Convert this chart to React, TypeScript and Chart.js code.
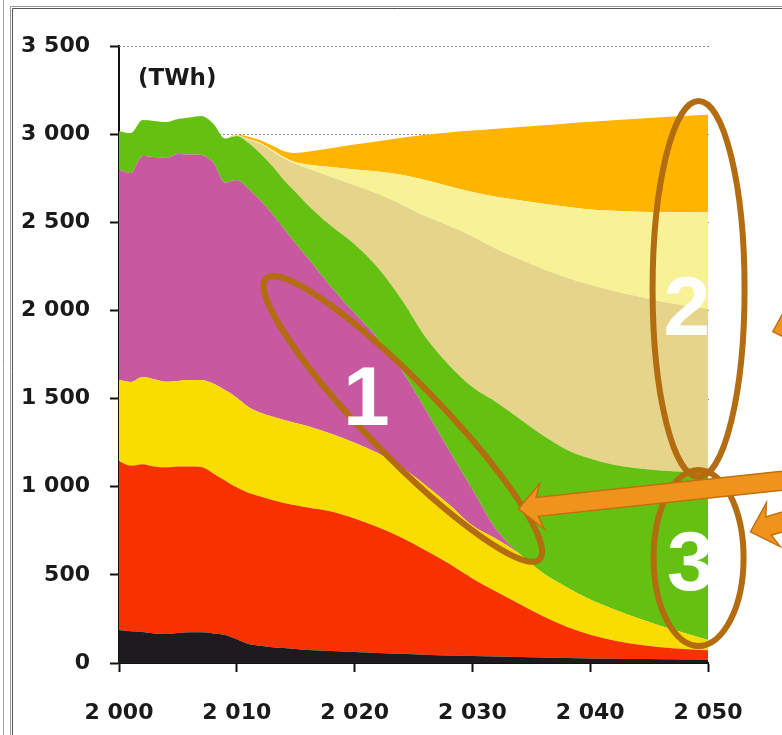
import { useEffect, useRef } from "react";
import { Chart, registerables } from "chart.js";

Chart.register(...registerables);

// Years sampled along the horizontal axis
const YEARS = [
  2000, 2001, 2002, 2003, 2004, 2005, 2006, 2007, 2008, 2009,
  2010, 2011, 2012, 2013, 2014, 2015, 2016,
  2018, 2020, 2022, 2024, 2026, 2028, 2030, 2032, 2034,
  2036, 2038, 2040, 2042, 2044, 2046, 2048, 2050,
];

// Stacked layers, bottom to top (TWh)
const BLACK = [187, 180, 176, 168, 164, 170, 174, 174, 168, 159, 135, 108, 98, 90, 85, 80, 74, 68, 62, 57, 52, 47, 43, 40, 37, 34, 31, 28, 26, 24, 22, 21, 20, 19];
const RED = [958, 940, 952, 947, 946, 945, 941, 938, 907, 876, 860, 857, 847, 835, 823, 815, 808, 792, 758, 713, 658, 593, 522, 440, 368, 301, 234, 177, 134, 104, 83, 69, 60, 53];
const YELLOW = [460, 474, 494, 495, 485, 485, 490, 493, 510, 513, 510, 487, 475, 473, 470, 467, 463, 440, 430, 420, 400, 370, 335, 300, 300, 285, 245, 225, 200, 177, 150, 120, 90, 58];
const MAGENTA = [1192, 1186, 1254, 1260, 1270, 1287, 1280, 1277, 1255, 1177, 1235, 1238, 1205, 1152, 1087, 1018, 955, 835, 735, 650, 550, 430, 310, 205, 55, 0, 0, 0, 0, 0, 0, 0, 0, 0];
const GREEN = [220, 226, 204, 205, 204, 199, 210, 221, 220, 250, 250, 260, 265, 270, 275, 290, 300, 345, 390, 400, 400, 410, 480, 580, 720, 765, 780, 780, 800, 820, 850, 882, 915, 950];
const TAN = [0, 0, 0, 0, 0, 0, 0, 0, 0, 0, 2, 18, 55, 85, 122, 160, 205, 277, 335, 420, 540, 685, 790, 855, 870, 905, 945, 975, 985, 985, 975, 958, 943, 930];
const PALE_YELLOW = [0, 0, 0, 0, 0, 0, 0, 0, 0, 0, 2, 4, 5, 7, 8, 10, 23, 56, 90, 128, 170, 205, 225, 252, 295, 335, 370, 403, 427, 455, 480, 508, 529, 546];
const ORANGE = [0, 0, 0, 0, 0, 0, 0, 0, 0, 0, 4, 13, 15, 23, 33, 53, 72, 107, 141, 172, 209, 257, 305, 348, 385, 415, 445, 472, 498, 514, 528, 538, 546, 554];

const LAYERS = [
  { values: BLACK, color: "#1e1a1d" },
  { values: RED, color: "#f73200" },
  { values: YELLOW, color: "#f9dc00" },
  { values: MAGENTA, color: "#c858a0" },
  { values: GREEN, color: "#65c111" },
  { values: TAN, color: "#e6d48a" },
  { values: PALE_YELLOW, color: "#f7f296" },
  { values: ORANGE, color: "#ffb400" },
];

const Y_TICKS = [0, 500, 1000, 1500, 2000, 2500, 3000, 3500];
const UNIT = "(TWh)";

// Numbers are written with a space as thousands separator
const fmt = (v: number) => {
  const n = Math.round(v);
  if (n < 1000) return String(n);
  return `${Math.floor(n / 1000)} ${String(n % 1000).padStart(3, "0")}`;
};

const TICK_FONT = { family: "'DejaVu Sans', Verdana, sans-serif", weight: "bold" as const, size: 22 };

function drawArrow(
  ctx: CanvasRenderingContext2D,
  tipX: number, tipY: number,
  dirX: number, dirY: number,
  length: number, shaft: number, headLen: number, headHalf: number, neck: number,
) {
  const px = -dirY;
  const py = dirX;
  const pts: [number, number][] = [
    [0, 0],
    [headLen, headHalf],
    [neck, shaft / 2],
    [length, shaft / 2],
    [length, -shaft / 2],
    [neck, -shaft / 2],
    [headLen, -headHalf],
  ];
  ctx.beginPath();
  pts.forEach(([u, v], i) => {
    const x = tipX + dirX * u + px * v;
    const y = tipY + dirY * u + py * v;
    if (i === 0) ctx.moveTo(x, y);
    else ctx.lineTo(x, y);
  });
  ctx.closePath();
  ctx.fill();
  ctx.stroke();
}

const decorations = {
  id: "decorations",
  beforeDatasetsDraw(chart: any) {
    const { ctx, chartArea, scales } = chart;
    ctx.save();
    ctx.strokeStyle = "#8c8c8c";
    ctx.lineWidth = 1;
    ctx.setLineDash([2, 2]);
    for (const v of Y_TICKS) {
      if (v === 0) continue;
      const py = Math.round(scales.y.getPixelForValue(v)) + 0.5;
      ctx.beginPath();
      ctx.moveTo(chartArea.left, py);
      ctx.lineTo(chartArea.right + 2, py);
      ctx.stroke();
    }
    ctx.restore();
  },
  afterDraw(chart: any) {
    const { ctx, chartArea, scales, width, height } = chart;
    const xs = scales.x;
    const ys = scales.y;
    const px = (v: number) => xs.getPixelForValue(v);
    const py = (v: number) => ys.getPixelForValue(v);
    ctx.save();

    // page frame
    ctx.lineWidth = 1;
    ctx.strokeStyle = "#a0a0a0";
    ctx.beginPath();
    ctx.moveTo(3.5, 0);
    ctx.lineTo(3.5, height);
    ctx.stroke();
    ctx.strokeStyle = "#9a9a9a";
    ctx.beginPath();
    ctx.moveTo(10.5, height);
    ctx.lineTo(10.5, 6.5);
    ctx.lineTo(width, 6.5);
    ctx.stroke();
    ctx.strokeStyle = "#555";
    ctx.beginPath();
    ctx.moveTo(12.5, height);
    ctx.lineTo(12.5, 8.5);
    ctx.lineTo(width, 8.5);
    ctx.stroke();

    // unit label
    ctx.fillStyle = "#1a1a1a";
    ctx.font = "bold 23px 'DejaVu Sans', Verdana, sans-serif";
    ctx.textAlign = "left";
    ctx.textBaseline = "middle";
    ctx.fillText(UNIT, chartArea.left + 19, chartArea.top + 33);

    // highlight ellipses
    ctx.strokeStyle = "#b36c10";
    ctx.lineWidth = 6;
    ctx.beginPath();
    ctx.ellipse(px(2024.1), py(1385), 196, 37, (45.8 * Math.PI) / 180, 0, Math.PI * 2);
    ctx.stroke();
    ctx.beginPath();
    ctx.ellipse(px(2049.2), py(2122), 46, 188, 0, 0, Math.PI * 2);
    ctx.stroke();
    ctx.beginPath();
    ctx.ellipse(px(2049.2), py(596), 45, 88, 0, 0, Math.PI * 2);
    ctx.stroke();

    // numbered callouts
    ctx.fillStyle = "#ffffff";
    ctx.font = "bold 84px 'Liberation Sans', Arial, sans-serif";
    ctx.textAlign = "center";
    ctx.textBaseline = "alphabetic";
    ctx.fillText("1", px(2021.0), py(1350));
    ctx.fillText("2", px(2048.2), py(1861));
    ctx.fillText("3", px(2048.5), py(414));

    // arrows
    ctx.fillStyle = "#f0931c";
    ctx.strokeStyle = "#c0700f";
    ctx.lineWidth = 1.5;
    drawArrow(ctx, px(2033.9), py(874), 0.994, -0.106, 320, 19, 24, 23, 19);
    drawArrow(ctx, px(2053.6), py(744), 0.955, -0.3, 90, 19, 24, 23, 19);
    drawArrow(ctx, px(2055.5), py(1880), 0.955, -0.3, 90, 19, 24, 23, 19);

    ctx.restore();
  },
};

export default function App() {
  const ref = useRef<HTMLCanvasElement>(null);

  useEffect(() => {
    const canvas = ref.current;
    if (!canvas) return;
    const chart = new Chart(canvas, {
      type: "line",
      data: {
        datasets: LAYERS.map((layer, i) => ({
          data: YEARS.map((x, k) => ({ x, y: layer.values[k] })),
          backgroundColor: layer.color,
          borderColor: layer.color,
          borderWidth: 0,
          pointRadius: 0,
          fill: i === 0 ? "origin" : "-1",
          cubicInterpolationMode: "monotone" as const,
        })),
      },
      options: {
        responsive: false,
        animation: false,
        events: [],
        layout: { padding: { top: 46, right: 74, left: 0, bottom: 0 } },
        plugins: { legend: { display: false }, tooltip: { enabled: false } },
        scales: {
          x: {
            type: "linear",
            min: 2000,
            max: 2050,
            z: 1,
            afterFit: (s: any) => {
              s.height = 72;
            },
            ticks: {
              stepSize: 10,
              padding: 28,
              color: "#1a1a1a",
              font: TICK_FONT,
              maxRotation: 0,
              autoSkip: false,
              callback: (v: any) => fmt(Number(v)),
            },
            grid: { drawOnChartArea: false, tickLength: 9, tickColor: "#111", tickWidth: 2 },
            border: { color: "#111", width: 2 },
          },
          y: {
            stacked: true,
            min: 0,
            max: 3500,
            z: 1,
            afterFit: (s: any) => {
              s.width = 119;
            },
            ticks: {
              stepSize: 500,
              padding: 20,
              color: "#1a1a1a",
              font: TICK_FONT,
              callback: (v: any) => fmt(Number(v)),
            },
            grid: { drawOnChartArea: false, tickLength: 9, tickColor: "#111", tickWidth: 2 },
            border: { color: "#111", width: 2 },
          },
        },
      },
      plugins: [decorations],
    });
    return () => chart.destroy();
  }, []);

  return (
    <div style={{ position: "absolute", left: 0, top: 0, width: 782, height: 735, background: "#fff" }}>
      <canvas ref={ref} width={782} height={735} style={{ display: "block", width: 782, height: 735 }} />
    </div>
  );
}
